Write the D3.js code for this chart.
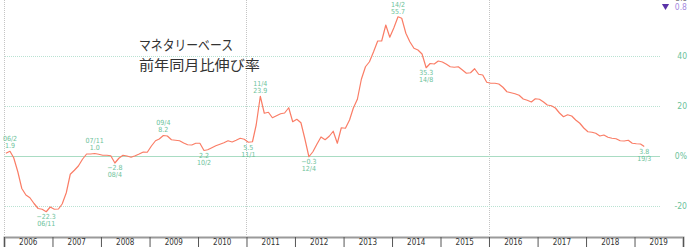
<!DOCTYPE html>
<html>
<head>
<meta charset="utf-8">
<script src="https://cdn.jsdelivr.net/npm/d3@7"></script>
<style>
  body { margin: 0; background: #fff; }
  svg { display: block; }
</style>
</head>
<body>
<div id="chart"></div>
<script>
// monetary base, yoy %, monthly from 2006/1
const startYear = 2006;
const y2006 = [1.1, 1.9, -0.7, -6.3, -13.0, -15.6, -16.7, -19.0, -21.0, -21.3, -22.3, -20.4];
const y2007 = [-21.3, -21.2, -19.2, -14.7, -7.3, -5.7, -4.0, -1.3, 0.8, 0.8, 1.0, 0.7];
const y2008 = [0.3, 0.3, 0.1, -2.8, -0.9, 0.3, 0.0, -0.5, 0.1, 0.8, 1.6, 1.5];
const y2009 = [4.0, 6.1, 6.8, 8.2, 8.0, 6.5, 6.3, 6.1, 5.2, 4.5, 4.4, 5.1];
const y2010 = [5.1, 2.2, 2.5, 3.3, 4.1, 4.7, 5.3, 6.1, 5.6, 6.3, 7.1, 6.7];
const y2011 = [5.5, 5.7, 12.4, 23.9, 17.1, 17.5, 15.3, 16.1, 16.9, 17.2, 19.3, 13.7];
const y2012 = [14.7, 13.3, 7.0, -0.3, 1.7, 4.8, 7.6, 6.5, 7.9, 9.9, 5.1, 11.3];
const y2013 = [11.1, 14.4, 19.1, 22.7, 30.7, 35.7, 37.7, 41.7, 46.0, 46.0, 52.4, 47.5];
const y2014 = [51.3, 55.7, 55.1, 49.1, 45.7, 43.1, 42.4, 40.8, 35.3, 37.0, 36.8, 38.0];
const y2015 = [37.6, 36.7, 35.7, 35.5, 35.7, 34.4, 33.1, 33.3, 34.9, 32.7, 32.4, 29.5];
const y2016 = [29.1, 29.1, 28.8, 27.5, 25.7, 25.3, 24.9, 24.3, 22.8, 22.3, 21.6, 22.9];
const y2017 = [22.7, 21.6, 20.4, 20.1, 19.2, 17.2, 15.7, 16.5, 16.0, 14.4, 13.1, 11.2];
const y2018 = [9.7, 9.5, 9.1, 8.0, 8.4, 7.5, 7.1, 6.9, 6.1, 6.0, 6.3, 5.1];
const y2019 = [4.9, 4.8, 3.8];

const yearLabels = ["2006","2007","2008","2009","2010","2011","2012","2013","2014","2015","2016","2017","2018","2019"];
const yTicks = [-20, 0, 20, 40];

// peak / trough notes: position (year, month), text, above or below
const noteAt   = [[2006,2],[2006,11],[2007,11],[2008,4],[2009,4],[2010,2],[2011,1],[2011,4],[2012,4],[2014,2],[2014,9],[2019,3]];
const noteText = ["06/2","06/11","07/11","08/4","09/4","10/2","11/1","11/4","12/4","14/2","14/8","19/3"];
const noteSide = ["up","down","up","down","up","down","down","up","down","up","down","down"];

const titleLines = ["マネタリーベース", "前年同月比伸び率"];

const allValues = [].concat(y2006, y2007, y2008, y2009, y2010, y2011, y2012, y2013,
                            y2014, y2015, y2016, y2017, y2018, y2019);
const series = allValues.map((v, i) => ({
  date: new Date(startYear + Math.floor(i / 12), i % 12, 15),
  value: v
}));

const W = 689, H = 247;
const green = "#6cc29a";
const narrow = "'Liberation Sans Narrow', 'DejaVu Sans Condensed', sans-serif";
const cond = "'DejaVu Sans Condensed', 'Liberation Sans Narrow', sans-serif";

const x = d3.scaleTime()
    .domain([new Date(2006, 0, 1), new Date(2020, 0, 1)])
    .range([4, 683]);
const y = d3.scaleLinear()
    .domain([-20, 40])
    .range([206, 56]);

const svg = d3.select("#chart").append("svg")
    .attr("width", W)
    .attr("height", H);

// vertical dotted lines every 5 years
[2006, 2011, 2016].forEach(yr => {
  let xx = Math.round(x(new Date(yr, 0, 1))) + 0.5;
  svg.append("line")
    .attr("x1", xx).attr("x2", xx)
    .attr("y1", 0).attr("y2", 236)
    .attr("stroke", "#c4c4c4")
    .attr("stroke-dasharray", "1,1");
});

// horizontal grid
yTicks.forEach(t => {
  let yy = Math.round(y(t)) + 0.5;
  svg.append("line")
    .attr("x1", 5).attr("x2", 660)
    .attr("y1", yy).attr("y2", yy)
    .attr("stroke", t === 0 ? "#a9dcc3" : "#b9e2d2")
    .attr("stroke-dasharray", t === 0 ? null : "1,1");
});

// right axis
let yAxis = d3.axisRight(y)
    .tickValues(yTicks)
    .tickSize(0)
    .tickFormat(d => d === 0 ? "0%" : d);
let ya = svg.append("g")
    .attr("transform", "translate(687,0)")
    .call(yAxis);
ya.select(".domain").remove();
ya.selectAll("text")
    .attr("x", 0)
    .attr("dy", "0.35em")
    .style("text-anchor", "end")
    .style("font-family", narrow)
    .style("font-size", "8.5px")
    .attr("fill", green);

// bottom axis
let years = d3.range(2006, 2021).map(yr => new Date(yr, 0, 1));
let xAxis = d3.axisBottom(x)
    .tickValues(years)
    .tickSize(10)
    .tickFormat("");
let xa = svg.append("g")
    .attr("transform", "translate(0,237)")
    .call(xAxis);
xa.select(".domain")
    .attr("stroke", "#9a9a9a")
    .attr("stroke-width", 2);
xa.selectAll(".tick line").attr("stroke", "#555");

svg.selectAll(".year-label")
  .data(yearLabels)
  .enter().append("text")
    .attr("class", "year-label")
    .attr("x", d => (x(new Date(+d, 0, 1)) + x(new Date(+d + 1, 0, 1))) / 2)
    .attr("y", 242.5)
    .attr("dy", "0.35em")
    .text(d => d)
    .style("text-anchor", "middle")
    .style("font-family", narrow)
    .style("font-size", "8px")
    .attr("fill", "#333");

// the line
let line = d3.line()
    .x(d => x(d.date))
    .y(d => y(d.value));

svg.append("path")
    .datum(series)
    .attr("d", line)
    .attr("fill", "none")
    .attr("stroke", "#fa7d66")
    .attr("stroke-width", 1.2)
    .attr("stroke-linejoin", "round");

// notes
noteAt.forEach((p, k) => {
  let i = (p[0] - startYear) * 12 + (p[1] - 1);
  let d = series[i];
  let px = x(d.date), py = y(d.value);
  let up = noteSide[k] === "up";
  let lines = up
    ? [[noteText[k], py - 12.5], [d3.format(".1f")(d.value), py - 5.5]]
    : [[d3.format(".1f")(d.value), py + 5], [noteText[k], py + 12]];
  lines.forEach(l => {
    svg.append("text")
      .attr("x", px)
      .attr("y", l[1])
      .attr("dy", "0.35em")
      .text(l[0])
      .style("text-anchor", "middle")
      .style("font-family", cond)
      .style("font-size", "7px")
      .attr("fill", green);
  });
});

// title
titleLines.forEach((t, k) => {
  svg.append("text")
    .attr("x", 139)
    .attr("y", k === 0 ? 50 : 69.5)
    .attr("textLength", k === 0 ? 94 : 121)
    .attr("lengthAdjust", "spacingAndGlyphs")
    .text(t)
    .style("font-family", "'Noto Sans CJK JP', sans-serif")
    .style("font-size", "14px")
    .attr("fill", "#333");
});

// top right legend remnant (first row cut by the top edge)
svg.append("text")
    .attr("x", 687).attr("y", 0.5)
    .text("3.8")
    .style("text-anchor", "end")
    .style("font-family", narrow)
    .style("font-size", "8px")
    .attr("fill", "#777");
svg.append("path")
    .attr("d", d3.symbol(d3.symbolTriangle, 22)())
    .attr("transform", "translate(665.5,6) rotate(180)")
    .attr("fill", "#5a32a8");
svg.append("text")
    .attr("x", 687).attr("y", 10)
    .text("0.8")
    .style("text-anchor", "end")
    .style("font-family", narrow)
    .style("font-size", "8.5px")
    .attr("fill", "#a58ae0");
</script>
</body>
</html>
